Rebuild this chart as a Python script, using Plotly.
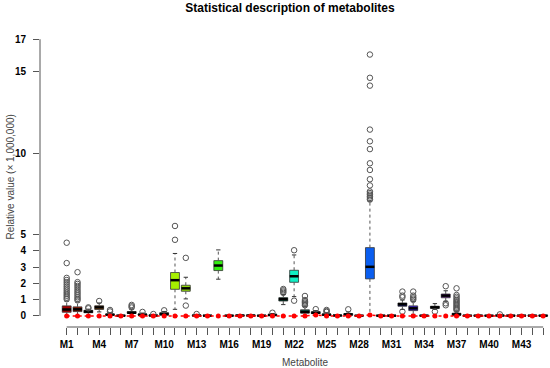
import plotly.graph_objects as go

# ---------------- data ----------------
metabolites = ["M%d" % i for i in range(1, 46)]
positions = list(range(1, 46))

q1 = [0.23, 0.27, 0.20, 0.40, 0.05, 0.00, 0.16, 0.05, 0.01, 0.05,
      1.64, 1.52, 0.01, 0.00, 2.79, 0.00, 0.01, 0.01, 0.00, 0.03,
      0.92, 2.07, 0.18, 0.15, 0.04, 0.01, 0.05, 0.00, 2.28, 0.00,
      0.00, 0.60, 0.33, 0.00, 0.47, 1.12, 0.05, 0.00, 0.00, 0.00,
      0.01, 0.00, 0.00, 0.00, 0.00]
median = [0.40, 0.41, 0.27, 0.53, 0.08, 0.02, 0.20, 0.08, 0.03, 0.12,
          2.20, 1.70, 0.03, 0.02, 3.10, 0.02, 0.03, 0.03, 0.02, 0.06,
          1.03, 2.44, 0.24, 0.20, 0.08, 0.03, 0.10, 0.02, 3.02, 0.02,
          0.02, 0.72, 0.47, 0.02, 0.53, 1.25, 0.10, 0.02, 0.02, 0.02,
          0.03, 0.02, 0.02, 0.02, 0.02]
q3 = [0.62, 0.56, 0.35, 0.63, 0.12, 0.04, 0.27, 0.12, 0.05, 0.20,
      2.67, 1.89, 0.05, 0.04, 3.40, 0.04, 0.05, 0.05, 0.03, 0.10,
      1.13, 2.81, 0.38, 0.26, 0.12, 0.05, 0.14, 0.03, 4.20, 0.04,
      0.04, 0.80, 0.62, 0.04, 0.60, 1.35, 0.17, 0.04, 0.04, 0.03,
      0.05, 0.04, 0.04, 0.04, 0.04]
whisker_low = [0.00, 0.00, 0.05, 0.25, 0.00, 0.00, 0.05, 0.00, 0.00, 0.00,
               0.41, 1.05, 0.00, 0.00, 2.26, 0.00, 0.00, 0.00, 0.00, 0.00,
               0.70, 1.19, 0.00, 0.05, 0.00, 0.00, 0.00, 0.00, 0.00, 0.00,
               0.00, 0.40, 0.10, 0.00, 0.40, 0.90, 0.00, 0.00, 0.00, 0.00,
               0.00, 0.00, 0.00, 0.00, 0.00]
whisker_high = [0.92, 0.86, 0.42, 0.80, 0.20, 0.07, 0.42, 0.18, 0.08, 0.28,
                3.84, 2.38, 0.08, 0.06, 4.06, 0.06, 0.08, 0.08, 0.05, 0.15,
                1.32, 3.75, 0.60, 0.33, 0.20, 0.08, 0.25, 0.05, 7.05, 0.06,
                0.06, 0.98, 0.90, 0.06, 0.76, 1.55, 0.30, 0.06, 0.06, 0.05,
                0.08, 0.06, 0.06, 0.06, 0.06]
outliers = [
    [4.50, 3.25, 2.34, 2.21, 2.08, 1.95, 1.82, 1.70, 1.58, 1.46, 1.35, 1.24, 1.13, 1.03],  # M1
    [2.69, 2.08, 1.97, 1.85, 1.73, 1.60, 1.48, 1.37, 1.26, 1.15, 1.05, 0.96],              # M2
    [0.53, 0.47],                       # M3
    [0.92],                             # M4
    [0.37, 0.28],                       # M5
    [],                                 # M6
    [0.68, 0.60, 0.52],                 # M7
    [0.25],                             # M8
    [0.12],                             # M9
    [0.35],                             # M10
    [5.53, 4.68],                       # M11
    [3.57, 0.64],                       # M12
    [0.12],                             # M13
    [],                                 # M14
    [],                                 # M15
    [],                                 # M16
    [],                                 # M17
    [],                                 # M18
    [],                                 # M19
    [0.20],                             # M20
    [1.66, 1.58, 1.50, 1.42],           # M21
    [4.04, 0.94],                       # M22
    [1.23, 0.98, 0.90, 0.82, 0.74, 0.66],  # M23
    [0.42],                             # M24
    [0.37, 0.30, 0.25],                 # M25
    [],                                 # M26
    [0.41],                             # M27
    [],                                 # M28
    [16.06, 14.63, 14.15, 11.45, 10.73, 10.25, 9.38, 8.97, 8.40, 8.02,
     7.65, 7.55, 7.45, 7.35, 7.25, 7.15],  # M29
    [],                                 # M30
    [],                                 # M31
    [1.50, 1.25, 1.15, 0.27],           # M32
    [1.50, 1.25, 1.15, 1.07, 0.99],     # M33
    [],                                 # M34
    [0.27],                             # M35
    [1.83, 0.78, 0.66],                 # M36
    [1.70, 1.29, 1.18, 1.08, 0.98, 0.90, 0.82, 0.74, 0.66, 0.58, 0.50, 0.43, 0.36],  # M37
    [], [], [], [0.10], [], [], [], [],  # M38-M45
]
baseline_points = [0.0] * 23 + [0.06] + [0.0] * 4 + [0.06] + [0.0] * 16

tick_values_y = [0, 1, 2, 3, 4, 5, 10, 15, 17]
x_tick_labels = [m if (i % 3 == 0) else "" for i, m in enumerate(metabolites)]

# ---------------- styles ----------------
box_colors = ["#a80000", "#951800", "#2a1a00", "#a35a10", "#3a2a00", "#302a00", "#3a3800",
              "#333300", "#2c3300", "#334400", "#a6f000", "#8fd80a", "#1f3300", "#1a3300",
              "#33ee11", "#0e3300", "#003310", "#00331a", "#003320", "#00442a", "#006648",
              "#11eec4", "#005548", "#003838", "#003340", "#002c3a", "#002a44", "#002244",
              "#0a5ef0", "#001a44", "#001044", "#14147a", "#3a1fcc", "#0a0033", "#1a1a3a",
              "#6a1399", "#220033", "#2a0033", "#2a0030", "#30002a", "#330026", "#330020",
              "#33001c", "#330018", "#330012"]
BOX_W = 0.82
STAPLE_W = 0.2

fig = go.Figure()

# whiskers (dashed)
wx, wy = [], []
for p, a, b, c, d in zip(positions, whisker_low, q1, q3, whisker_high):
    wx += [p, p, None, p, p, None]
    wy += [c, d, None, b, a, None]
fig.add_trace(go.Scatter(x=wx, y=wy, mode="lines",
                         line=dict(color="#555555", width=1, dash="dot"),
                         hoverinfo="skip", showlegend=False))
# staples
sx, sy = [], []
for p, a, d in zip(positions, whisker_low, whisker_high):
    sx += [p - STAPLE_W, p + STAPLE_W, None, p - STAPLE_W, p + STAPLE_W, None]
    sy += [d, d, None, a, a, None]
fig.add_trace(go.Scatter(x=sx, y=sy, mode="lines",
                         line=dict(color="#333333", width=1),
                         hoverinfo="skip", showlegend=False))

# boxes
fig.add_trace(go.Bar(x=positions, y=[c - b for b, c in zip(q1, q3)], base=q1,
                     width=BOX_W, marker=dict(color=box_colors,
                                              line=dict(color="#333333", width=0.8)),
                     hoverinfo="skip", showlegend=False))
# medians
mx, my = [], []
for p, m in zip(positions, median):
    mx += [p - BOX_W / 2, p + BOX_W / 2, None]
    my += [m, m, None]
fig.add_trace(go.Scatter(x=mx, y=my, mode="lines",
                         line=dict(color="#000000", width=2.5),
                         hoverinfo="skip", showlegend=False))

# outliers
ox, oy = [], []
for p, vals in zip(positions, outliers):
    for v in vals:
        ox.append(p)
        oy.append(v)
fig.add_trace(go.Scatter(x=ox, y=oy, mode="markers",
                         marker=dict(symbol="circle-open", size=5.5,
                                     color="#555555", line=dict(width=1)),
                         hoverinfo="skip", showlegend=False))

# red baseline points
fig.add_trace(go.Scatter(x=positions, y=baseline_points, mode="lines+markers",
                         line=dict(color="#ff0000", width=1.5, dash="dot"),
                         marker=dict(color="#ff0000", size=5),
                         hoverinfo="skip", showlegend=False))

L, R, T, B = 40, 0, 28, 41
W, H = 550, 368
pw = W - L - R
ph = H - T - B

fig.update_layout(
    width=W, height=H,
    margin=dict(l=L, r=R, t=T, b=B, pad=0),
    paper_bgcolor="white", plot_bgcolor="white",
    font=dict(family="Liberation Sans, Arial, sans-serif", color="#000000"),
    title=dict(text="<b>Statistical description of metabolites</b>",
               x=290 / W, xref="container", xanchor="center",
               y=1 - 8 / H, yref="container", yanchor="middle",
               font=dict(size=12, color="#000000")),
    xaxis=dict(range=[-1.465, 45.63], tickmode="array", tickvals=positions,
               ticktext=["<b>%s</b>" % t if t else "" for t in x_tick_labels],
               ticks="outside", ticklen=7, tickwidth=1, tickcolor="#555555",
               tickfont=dict(size=10, color="#000000"),
               showgrid=False, zeroline=False, showline=False,
               ticklabelstandoff=1),
    yaxis=dict(range=[-0.676, 17.69], tickmode="array", tickvals=tick_values_y,
               ticktext=["<b>%d</b>" % v for v in tick_values_y],
               ticks="outside", ticklen=6, tickwidth=1, tickcolor="#555555",
               tickfont=dict(size=10, color="#000000"),
               showgrid=False, zeroline=False, showline=False,
               ticklabelstandoff=5),
    shapes=[
        dict(type="line", xref="paper", yref="y", x0=0, x1=0, y0=0, y1=17,
             line=dict(color="#555555", width=1)),
        dict(type="line", xref="x", yref="paper", x0=1, x1=45, y0=0, y1=0,
             line=dict(color="#555555", width=1)),
    ],
    annotations=[
        dict(text="Relative value (× 1,000,000)", xref="paper", yref="paper",
             x=(10 - L) / pw, y=0.5, textangle=-90, showarrow=False,
             xanchor="center", yanchor="middle",
             font=dict(size=10, color="#444444")),
        dict(text="Metabolite", xref="paper", yref="paper",
             x=(305 - L) / pw, y=-(362 - (T + ph)) / ph,
             showarrow=False, xanchor="center", yanchor="middle",
             font=dict(size=10, color="#444444")),
    ],
)

fig.write_html("out.html", config={"displayModeBar": False},
               post_script="document.body.style.margin='0';document.body.style.padding='0';")
